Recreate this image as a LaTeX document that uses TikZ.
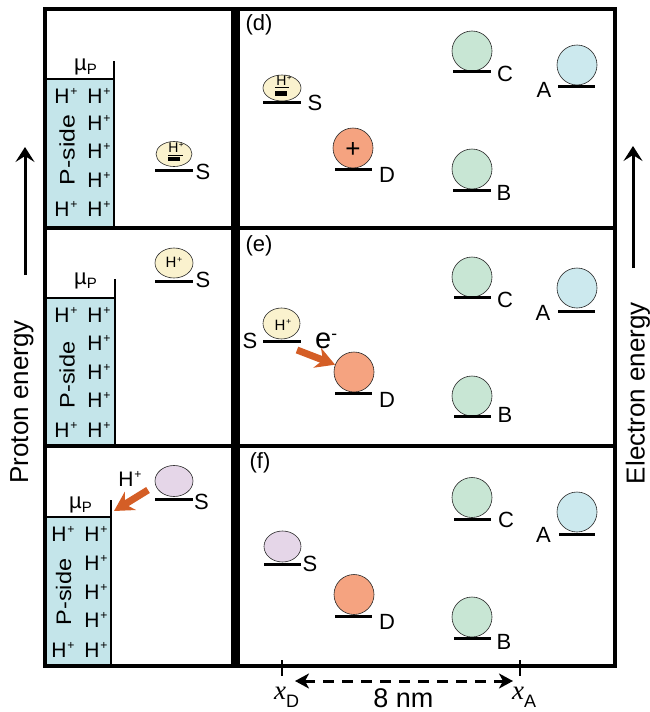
\documentclass[tikz,border=0pt]{standalone}
\usepackage{fontspec}
\setmainfont{Liberation Sans}
\newfontfamily\tnrfont{Liberation Serif}
\usetikzlibrary{arrows.meta,shapes.geometric}
\definecolor{pside}{RGB}{196,229,234}
\definecolor{syel}{RGB}{250,242,206}
\definecolor{slav}{RGB}{229,214,232}
\definecolor{dor}{RGB}{245,163,128}
\definecolor{grn}{RGB}{200,230,212}
\definecolor{ablu}{RGB}{204,233,238}
\definecolor{arrorg}{RGB}{212,94,38}
\newcommand\myHp{H\kern0.04em\raisebox{0.36em}{\scalebox{0.58}{+}}}
\begin{document}
\begin{tikzpicture}[x=1pt,y=-1pt,
  frm/.style={line width=3.5pt},
  lvl/.style={line width=3pt},
  thinb/.style={line width=2pt},
  lbl/.style={font=\fontsize{22}{22}\selectfont, inner sep=0pt},
  hp/.style={font=\fontsize{21}{21}\selectfont, inner sep=0pt},
  shp/.style={font=\fontsize{15}{15}\selectfont, inner sep=0pt},
  ushp/.style={font=\fontsize{14}{14}\selectfont, inner sep=0pt},
  ps/.style={font=\fontsize{21}{21}\selectfont, inner sep=0pt, rotate=90},
  axl/.style={font=\fontsize{26}{26}\selectfont, inner sep=0pt, rotate=90},
  orb/.style={circle, draw=black!85, line width=0.6pt, minimum size=40pt, inner sep=0pt},
  sel/.style={ellipse, draw=black!85, line width=0.6pt, inner sep=0pt},
  bigarr/.style={line width=3pt, -{Stealth[length=15pt,width=19pt,inset=6pt]}},
  oarr/.style={line width=7pt, draw=arrorg, -{Stealth[length=19pt,width=21pt,inset=6pt,fill=arrorg]}},
  mu/.style={anchor=base west, inner sep=0pt},
]
\useasboundingbox (0,0) rectangle (650,712);

% ---------- P-side reservoirs ----------
\fill[pside] (45,79) rectangle (114,228);
\draw[thinb] (45,79) -- (114,79);
\draw[thinb] (114,61) -- (114,228);
\fill[pside] (45,298) rectangle (115,446);
\draw[thinb] (45,298) -- (115,298);
\draw[thinb] (115,279) -- (115,446);
\fill[pside] (45,517) rectangle (111,666);
\draw[thinb] (45,517) -- (111,517);
\draw[thinb] (111,500) -- (111,666);

\foreach \x/\y [count=\i] in {66/96,99/96,99/123,99/151,99/180,66/209,99/209}
  \node[hp] (hpa\i) at (\x,\y) {\myHp};
\foreach \x/\y [count=\i] in {66/315,99/315,99/343,99/372,99/400,66/430,99/430}
  \node[hp] (hpb\i) at (\x,\y) {\myHp};
\foreach \x/\y [count=\i] in {63/534,96/534,96/563,96/592,96/620,63/650,96/650}
  \node[hp] (hpc\i) at (\x,\y) {\myHp};

\node[ps] (psa) at (67,150) {\scalebox{1.18}[1]{P-side}};
\node[ps] (psb) at (67,375) {\scalebox{1.12}[1]{P-side}};
\node[ps] (psc) at (63.5,592) {\scalebox{1.12}[1]{P-side}};

\node[mu] (mua) at (74,70) {\fontsize{22}{22}\selectfont µ\raisebox{-4pt}{\fontsize{15}{15}\selectfont P}};
\node[mu] (mub) at (74,284) {\fontsize{22}{22}\selectfont µ\raisebox{-4pt}{\fontsize{15}{15}\selectfont P}};
\node[mu] (muc) at (69,508) {\fontsize{22}{22}\selectfont µ\raisebox{-4pt}{\fontsize{15}{15}\selectfont P}};

% ---------- left S sites ----------
\node[sel, fill=syel, minimum width=36pt, minimum height=25pt] (sa) at (174,154) {};
\node[ushp] (sah) at (176,148) {\myHp};
\draw[line width=0.8pt] (168,155) -- (183,155);
\fill (168,157) rectangle (180,161);
\draw[lvl] (155,170) -- (193,170);
\node[lbl] (sal) at (203,172) {S};

\node[sel, fill=syel, minimum width=38pt, minimum height=30pt] (sb) at (174,263) {};
\node[shp] (sbh) at (174,262.5) {\myHp};
\draw[lvl] (155,281) -- (193,281);
\node[lbl] (sbl) at (203,280) {S};

\node[sel, fill=slav, minimum width=38pt, minimum height=31pt] (sc) at (174,481) {};
\draw[lvl] (155,499) -- (193,499);
\node[lbl] (scl) at (201.5,501.5) {S};
\node[hp] (hpt) at (130,479) {\myHp};
\coordinate (oa0) at (148,490);
\coordinate (oa1) at (114,511);
\draw[oarr] (oa0) -- (oa1);

% ---------- panel (d) ----------
\node[lbl] (pd) at (259,25) {(d)};
\node[sel, fill=syel, minimum width=38pt, minimum height=26pt] (ds) at (282,88) {};
\node[ushp] (dsh) at (284,81) {\myHp};
\draw[line width=0.8pt] (275,87.5) -- (289,87.5);
\fill (275,90.5) rectangle (287,96);
\draw[lvl] (263,102) -- (301,102);
\node[lbl] (dsl) at (315,103) {S};
\node[orb, fill=dor] (dd) at (353,148) {};
\node[font=\fontsize{26}{26}\selectfont, inner sep=0pt] (ddp) at (353,150) {+};
\draw[lvl] (335,169) -- (372,169);
\node[lbl] (ddl) at (387,174.5) {D};
\node[orb, fill=grn] (dc) at (472,51) {};
\draw[lvl] (453,71) -- (491,71);
\node[lbl] (dcl) at (505,73.5) {C};
\node[orb, fill=grn] (db) at (472,169) {};
\draw[lvl] (453,190) -- (491,190);
\node[lbl] (dbl) at (504,192.5) {B};
\node[orb, fill=ablu] (da) at (577,65) {};
\draw[lvl] (558,86) -- (595,86);
\node[lbl] (dal) at (544,90) {A};

% ---------- panel (e) ----------
\node[lbl] (pe) at (259,246) {(e)};
\node[sel, fill=syel, minimum width=37pt, minimum height=31pt] (es) at (281.5,323.5) {};
\node[shp] (esh) at (283,325) {\myHp};
\draw[lvl] (263,341) -- (301,341);
\node[lbl] (esl) at (250,341) {S};
\node[anchor=base west, inner sep=0pt, font=\fontsize{29}{29}\selectfont] (eel) at (315,348) {e\raisebox{0.28em}{\scalebox{0.6}{-}}};
\node[orb, fill=dor] (ed) at (354,372) {};
\draw[lvl] (335,393) -- (372,393);
\node[lbl] (edl) at (387,400) {D};
\coordinate (ea0) at (297,350);
\draw[oarr] (ea0) -- (ed);
\node[orb, fill=grn] (ec) at (472,277) {};
\draw[lvl] (454,297) -- (491,297);
\node[lbl] (ecl) at (505,300) {C};
\node[orb, fill=grn] (eb) at (472,396) {};
\draw[lvl] (454,416) -- (491,416);
\node[lbl] (ebl) at (505,415) {B};
\node[orb, fill=ablu] (ea) at (577,288) {};
\draw[lvl] (558,311) -- (595,311);
\node[lbl] (eal) at (543,312.5) {A};

% ---------- panel (f) ----------
\node[lbl] (pf) at (260,463) {(f)};
\node[sel, fill=slav, minimum width=37pt, minimum height=31pt] (fs) at (282.5,546.5) {};
\draw[lvl] (264,564) -- (301,564);
\node[lbl] (fsl) at (310,564) {S};
\node[orb, fill=dor] (fd) at (354,594.5) {};
\draw[lvl] (335,616) -- (372,616);
\node[lbl] (fdl) at (387,622) {D};
\node[orb, fill=grn] (fc) at (472,497.5) {};
\draw[lvl] (454,519) -- (491,519);
\node[lbl] (fcl) at (506,520) {C};
\node[orb, fill=grn] (fb) at (472,617) {};
\draw[lvl] (454,638) -- (491,638);
\node[lbl] (fbl) at (504,642) {B};
\node[orb, fill=ablu] (fa) at (577,512) {};
\draw[lvl] (559,534) -- (595,534);
\node[lbl] (fal) at (543.5,535) {A};

% ---------- frames ----------
\draw[frm] (45,9) rectangle (615,666);
\draw[frm] (45,228) -- (615,228);
\draw[frm] (45,446) -- (615,446);
\draw[line width=9pt] (235.5,7.25) -- (235.5,667.75);

% ---------- energy axes ----------
\coordinate (pa0) at (25,275);
\coordinate (pa1) at (25,147);
\draw[bigarr] (pa0) -- (pa1);
\node[axl] (pel) at (22,402) {Proton energy};
\coordinate (ra0) at (633,268);
\coordinate (ra1) at (633,146);
\draw[bigarr] (ra0) -- (ra1);
\node[axl] (eell) at (638,393) {Electron energy};

% ---------- distance scale ----------
\coordinate (tk1a) at (282,660);
\coordinate (tk1b) at (282,676);
\coordinate (tk2a) at (520,660);
\coordinate (tk2b) at (520,676);
\draw[line width=2pt] (tk1a) -- (tk1b);
\draw[line width=2pt] (tk2a) -- (tk2b);
\coordinate (sc0) at (295,681);
\coordinate (sc1) at (513,681);
\draw[line width=3pt, dash pattern=on 11pt off 8pt,
  {Stealth[length=14pt,width=15pt,inset=4pt]}-{Stealth[length=14pt,width=15pt,inset=4pt]}] (sc0) -- (sc1);
\node[anchor=base west, inner sep=0pt] (xdl) at (274,699) {\fontsize{27}{27}\selectfont{\tnrfont\itshape x}\raisebox{-8pt}{\fontsize{18}{18}\selectfont D}};
\node[anchor=base, inner sep=0pt, font=\fontsize{27}{27}\selectfont] (nml) at (403.5,707) {8 nm};
\node[anchor=base west, inner sep=0pt] (xal) at (512,699) {\fontsize{27}{27}\selectfont{\tnrfont\itshape x}\raisebox{-8pt}{\fontsize{18}{18}\selectfont A}};
\end{tikzpicture}
\end{document}
